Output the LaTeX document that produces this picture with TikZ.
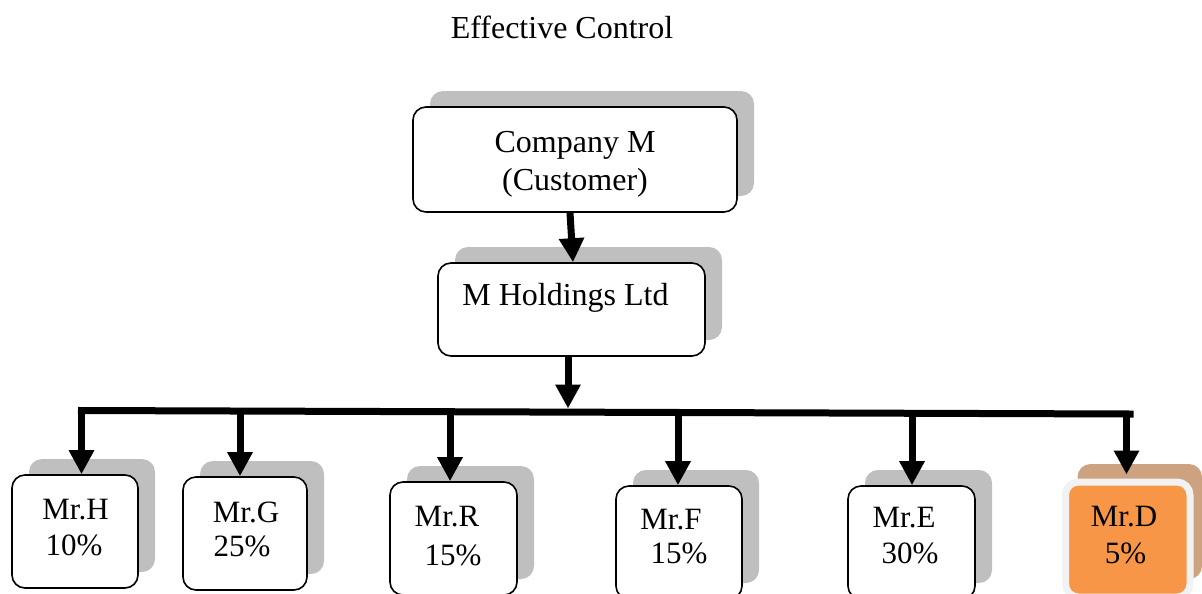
\documentclass[tikz,border=0pt]{standalone}
\usepackage{fontspec}
\setmainfont{Liberation Serif}
\usepackage{xcolor}
\usetikzlibrary{positioning,calc,shadows,arrows.meta}
\definecolor{shadowgray}{RGB}{191,191,191}
\definecolor{dorange}{RGB}{247,150,70}
\definecolor{dshadow}{RGB}{205,162,128}
\definecolor{dborder}{RGB}{242,242,242}

\begin{document}
\begin{tikzpicture}[x=1pt,y=-1pt,
    box/.style={draw, line width=1.6pt, rounded corners=13pt, fill=white, inner sep=0pt,
        general shadow={fill=shadowgray, shadow xshift=17pt, shadow yshift=16pt}},
    small/.style={box, minimum width=126pt, minimum height=113pt},
    arr/.style={line width=7pt, -{Triangle[length=24pt,width=24pt]}},
    bigtxt/.style={inner sep=0pt, font=\fontsize{32}{38}\selectfont},
    txt/.style={inner sep=0pt, font=\fontsize{31}{34}\selectfont}]
    \useasboundingbox (0,0) rectangle (1202,594);

    % Title
    \node[inner sep=0pt, font=\fontsize{32}{36}\selectfont] (title) at (562,27) {Effective Control};

    % Top boxes
    \node[box, minimum width=324pt, minimum height=105pt] (cm) at (575,159.5) {};
    \node[inner sep=0pt, align=center, font=\fontsize{32}{38}\selectfont] (cmT) at (575,164) {Company M\\(Customer)};
    \node[box, minimum width=267pt, minimum height=93pt] (mh) at (571.5,309.5) {};
    \node[bigtxt] (mhT) at (565.5,298) {M Holdings Ltd};

    % Shareholders
    \node[small] (h) at (75,531.5) {};
    \node[small, minimum width=124pt] (g) at (245,533.5) {};
    \node[small, minimum width=127pt] (r) at (453.5,538.5) {};
    \node[small] (f) at (679,542.5) {};
    \node[small, minimum width=127pt] (e) at (911.5,542.5) {};
    \node[draw=dborder, line width=7pt, fill=dorange, rounded corners=13pt, inner sep=0pt,
        minimum width=124.5pt, minimum height=115pt,
        general shadow={fill=dshadow, shadow xshift=12pt, shadow yshift=18pt}] (d) at (1127.75,539.5) {};

    \node[txt] (hN) at (75.5,510) {Mr.H};
    \node[txt] (hP) at (74,545) {10\%};
    \node[txt] (gN) at (246,512) {Mr.G};
    \node[txt] (gP) at (242,546) {25\%};
    \node[txt] (rN) at (447,517) {Mr.R};
    \node[txt] (rP) at (453,555) {15\%};
    \node[txt] (fN) at (671,520) {Mr.F};
    \node[txt] (fP) at (679,553) {15\%};
    \node[txt] (eN) at (904,518) {Mr.E};
    \node[txt] (eP) at (910,553) {30\%};
    \node[txt] (dN) at (1124,517) {Mr.D};
    \node[txt] (dP) at (1125.5,553) {5\%};

    % Arrows
    \draw[arr] ([xshift=-5pt]cm.south) -- ([xshift=1.5pt]mh.north);
    \coordinate (hub) at (568,412);
    \draw[arr, shorten >=3.5pt] ([xshift=-3.5pt]mh.south) -- (hub);

    % Bus
    \coordinate (busL) at (81.5,410.5);
    \coordinate (busR) at (1130,414);
    \draw[line width=7pt, line cap=rect] (busL) -- (busR);

    \coordinate (bH) at (81.5,412);
    \coordinate (bG) at (240,412);
    \coordinate (bR) at (450,412);
    \coordinate (bF) at (678,412);
    \coordinate (bE) at (912,412);
    \coordinate (bD) at (1126.5,413);
    \draw[arr] (bH) -- (bH |- h.north);
    \draw[arr] (bG) -- (bG |- g.north);
    \draw[arr] (bR) -- (bR |- r.north);
    \draw[arr] (bF) -- (bF |- f.north);
    \draw[arr] (bE) -- (bE |- e.north);
    \draw[arr, shorten >=4pt] (bD) -- (bD |- d.north);
\end{tikzpicture}
\end{document}
